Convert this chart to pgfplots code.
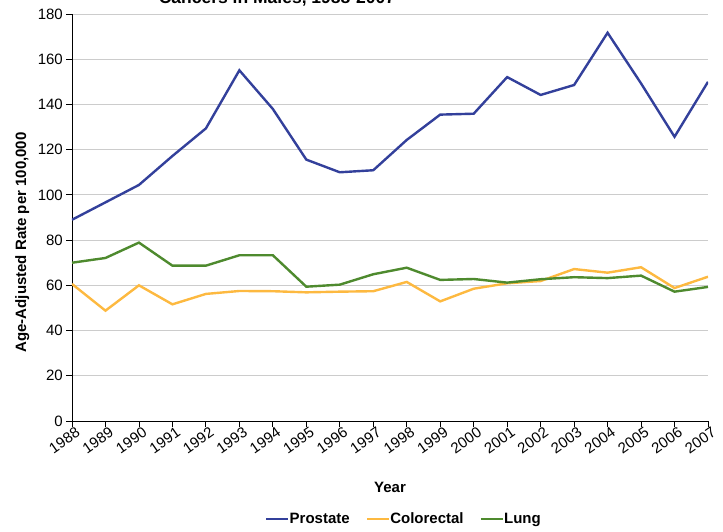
\documentclass[border=0pt]{standalone}
\usepackage{fontspec}
\setmainfont{Liberation Sans}
\usepackage{pgfplots}
\pgfplotsset{compat=1.18}
\definecolor{prostate}{RGB}{51,64,155}
\definecolor{colorectal}{RGB}{253,185,64}
\definecolor{lung}{RGB}{78,138,46}
\begin{document}
\begin{tikzpicture}[x=1pt,y=1pt]
\useasboundingbox (0,0) rectangle (723,531);
\node[anchor=base,font=\fontsize{17.5}{20}\selectfont\bfseries] at (277,527) {Cancers in Males, 1988-2007};
\begin{axis}[
  at={(72pt,110pt)}, anchor=south west,
  scale only axis, width=636pt, height=407pt,
  xmin=1988, xmax=2007, ymin=0, ymax=180,
  xtick={1988,...,2007}, ytick={0,20,...,180},
  axis x line*=bottom, axis y line*=left,
  axis line style={black, line width=0.8pt, -},
  tick style={black, line width=0.8pt},
  tick align=outside, major tick length=6pt,
  ymajorgrids, grid style={gray!40, line width=0.8pt},
  /pgf/number format/assume math mode=true,
  /pgf/number format/1000 sep={},
  ticklabel style={font=\fontsize{15}{17}\selectfont},
  yticklabel style={inner sep=3pt},
  xticklabel style={rotate=35, anchor=north east, xshift=5pt, yshift=1pt, inner sep=2pt},
  xlabel={Year}, ylabel={Age-Adjusted Rate per 100,000},
  label style={font=\fontsize{15}{17}\selectfont\bfseries},
  xlabel style={at={(0.5,0)}, anchor=base, yshift=-71pt},
  ylabel style={at={(0,0.439)}, anchor=base, yshift=46pt},
  legend style={at={(332pt,-98pt)}, anchor=center, draw=none, fill=none,
    legend columns=3, font=\fontsize{15}{17}\selectfont\bfseries,
    /tikz/every even column/.append style={column sep=14pt},
    /tikz/every odd column/.append style={column sep=-2pt}},
  legend image code/.code={\draw[#1, line width=2.5pt] (0pt,0pt) -- (22pt,0pt);},
  every axis plot/.append style={line width=2.4pt, line join=miter},
]
\addplot[prostate] coordinates {(1988,89) (1989,96.7) (1990,104.4) (1991,117.2) (1992,129.4) (1993,155.1) (1994,138) (1995,115.6) (1996,110) (1997,110.9) (1998,124.3) (1999,135.5) (2000,135.9) (2001,152.1) (2002,144.2) (2003,148.6) (2004,171.7) (2005,149.3) (2006,125.7) (2007,150)};
\addlegendentry{Prostate}
\addplot[colorectal] coordinates {(1988,60.6) (1989,48.8) (1990,60) (1991,51.6) (1992,56.2) (1993,57.5) (1994,57.4) (1995,56.9) (1996,57.2) (1997,57.4) (1998,61.5) (1999,52.9) (2000,58.5) (2001,60.9) (2002,61.9) (2003,67.2) (2004,65.6) (2005,68) (2006,58.8) (2007,63.8)};
\addlegendentry{Colorectal}
\addplot[lung] coordinates {(1988,70) (1989,72.1) (1990,78.9) (1991,68.7) (1992,68.7) (1993,73.3) (1994,73.3) (1995,59.4) (1996,60.3) (1997,64.9) (1998,67.8) (1999,62.4) (2000,62.8) (2001,61.2) (2002,62.7) (2003,63.6) (2004,63.2) (2005,64.3) (2006,57.2) (2007,59.3)};
\addlegendentry{Lung}
\end{axis}
\end{tikzpicture}
\end{document}
